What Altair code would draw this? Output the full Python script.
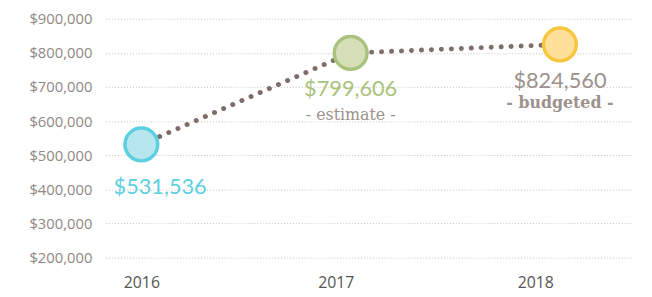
import altair as alt
import pandas as pd

years = [2016, 2017, 2018]
values = [531536, 799606, 824560]
value_labels = ["$531,536", "$799,606", "$824,560"]
notes = ["", "- estimate -", "- budgeted -"]
fills = ["#b7e6ef", "#d7dfb9", "#ffe09b"]
strokes = ["#5ccfe0", "#a9c27c", "#f9c43e"]
label_colors = ["#5ccfe0", "#a9c27c", "#9c918c"]
y_ticks = [200000, 300000, 400000, 500000, 600000, 700000, 800000, 900000]

df = pd.DataFrame({
    "year": years,
    "value": values,
    "vlabel": value_labels,
    "note": notes,
    "fill": fills,
    "stroke": strokes,
    "lcolor": label_colors,
})

x = alt.X(
    "year:Q",
    scale=alt.Scale(domain=[2015.83, 2018.345], nice=False, zero=False),
    axis=alt.Axis(
        values=years, format="d", title=None, grid=False, domain=False, ticks=False,
        labelFont="Open Sans", labelFontSize=16, labelColor="#555555", labelPadding=17,
        labelOffset={"expr": "datum.value == 2017 ? -15 : (datum.value == 2018 ? -25 : 0)"},
    ),
)
y = alt.Y(
    "value:Q",
    scale=alt.Scale(domain=[200000, 900000], nice=False, zero=False),
    axis=alt.Axis(
        values=y_ticks, format="$,.0f", title=None, domain=False, ticks=False,
        labelFont="Open Sans", labelFontSize=15, labelColor="#8f8783", labelPadding=14,
        gridColor="#c9bfbd", gridDash=[1, 2], gridWidth=1,
    ),
)

base = alt.Chart(df)

line = base.mark_line(strokeDash=[0.1, 10], strokeCap="round", strokeWidth=5, color="#7d6e69").encode(x=x, y=y)

points = base.mark_circle(size=1100, opacity=1, strokeWidth=3.5).encode(
    x=x, y=y,
    fill=alt.Fill("fill:N", scale=None),
    stroke=alt.Stroke("stroke:N", scale=None),
)

lab_first = base.transform_filter("datum.year == 2016").mark_text(
    font="Lato", fontSize=22, dy=43, dx=19, baseline="middle"
).encode(x=x, y=y, text="vlabel:N", color=alt.Color("lcolor:N", scale=None))

lab_rest = base.transform_filter("datum.year != 2016").mark_text(
    font="Lato", fontSize=22, dy=37, baseline="middle"
).encode(x=x, y=y, text="vlabel:N", color=alt.Color("lcolor:N", scale=None))

note_est = base.transform_filter("datum.year == 2017").mark_text(
    font="DejaVu Serif", fontSize=16, dy=63, baseline="middle", color="#9c918c"
).encode(x=x, y=y, text="note:N")

note_bud = base.transform_filter("datum.year == 2018").mark_text(
    font="DejaVu Serif", fontSize=16, fontWeight="bold", dy=59, baseline="middle", color="#9c918c"
).encode(x=x, y=y, text="note:N")

chart = alt.layer(line, points, lab_first, lab_rest, note_est, note_bud).properties(
    width=533, height=242,
    autosize=alt.AutoSizeParams(type="none"),
    padding={"left": 99, "top": 9, "right": 12, "bottom": 37},
).configure_view(stroke=None)

chart.save("out.html", embed_options={"renderer": "svg", "actions": False})
